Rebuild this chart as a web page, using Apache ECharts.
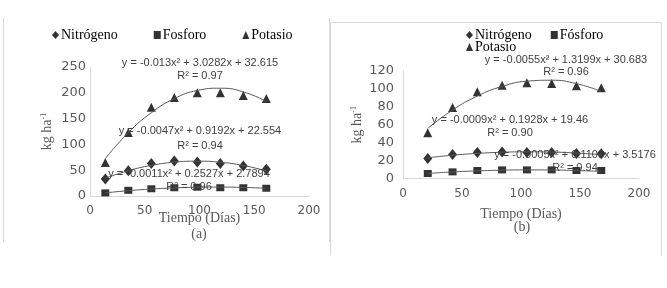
<!DOCTYPE html>
<html>
<head>
<meta charset="utf-8">
<script src="https://cdn.jsdelivr.net/npm/echarts@6/dist/echarts.min.js"></script>
<style>
  html, body { margin: 0; padding: 0; background: #fff; }
  #chart { width: 667px; height: 288px; }
</style>
</head>
<body>
<div id="chart"></div>
<script>
// (a) muestreo cada 21 dias
const diasA = [14, 35, 56, 77, 98, 119, 140, 161]
const nitA = [33, 49, 63, 68, 66, 63, 58, 52]
const fosA = [6, 11, 14, 16, 17, 16, 16, 15]
const potA = [65, 123, 172, 191, 200, 200, 195, 189]
const tendNitA = [34.5, 49.0, 59.3, 65.5, 67.5, 65.4, 59.1, 48.7]
const tendFosA = [6.1, 10.3, 13.5, 15.7, 17.0, 17.3, 16.6, 15.0]
const tendPotA = [72.5, 122.7, 161.4, 188.7, 204.5, 208.9, 201.8, 183.2]

// (b)
const diasB = [21, 42, 63, 84, 105, 126, 147, 168]
const nitB = [22.3, 26.8, 29, 29.7, 29, 29, 28, 27.5]
const fosB = [5.6, 7.4, 8.9, 9.6, 9.6, 9.6, 8.9, 8.9]
const potB = [51, 79.3, 96.8, 104.2, 106.8, 106.1, 103.5, 101.2]
const tendNitB = [23.1, 26.0, 28.0, 29.3, 29.8, 29.5, 28.4, 26.5]
const tendFosB = [5.6, 7.3, 8.5, 9.3, 9.6, 9.5, 8.9, 7.9]
const tendPotB = [56.0, 76.4, 92.0, 102.8, 108.6, 109.7, 105.9, 97.2]

const ecuacionesA = [
  ['y = -0.013x² + 3.0282x + 32.615', 'R² = 0.97'],
  ['y = -0.0047x² + 0.9192x + 22.554', 'R² = 0.94'],
  ['y = -0.0011x² + 0.2527x + 2.7894', 'R² = 0.96']
]
const ecuacionesB = [
  ['y = -0.0055x² + 1.3199x + 30.683', 'R² = 0.96'],
  ['y = -0.0009x² + 0.1928x + 19.46', 'R² = 0.90'],
  ['y = -0.0005x² + 0.1103x + 3.5176', 'R² = 0.94']
]

const pares = (xs, ys) => xs.map((x, i) => [x, ys[i]])

const gris = '#595959'
const borde = '#d9d9d9'
const serif = '"Liberation Serif", "Times New Roman", serif'
const sans = '"Liberation Sans", Arial, sans-serif'

function puntos(name, idx, xs, ys, symbol, size) {
  return {
    name: name,
    type: 'scatter',
    xAxisIndex: idx,
    yAxisIndex: idx,
    symbol: symbol,
    symbolSize: size,
    itemStyle: { color: '#000' },
    data: pares(xs, ys),
    z: 3
  }
}

function tendencia(idx, xs, ys) {
  return {
    name: 'tendencia',
    type: 'line',
    xAxisIndex: idx,
    yAxisIndex: idx,
    symbol: 'none',
    smooth: true,
    silent: true,
    lineStyle: { color: gris, width: 1 },
    data: pares(xs, ys),
    z: 4
  }
}

function ejeX(idx, gap) {
  return {
    gridIndex: idx,
    type: 'value',
    min: 0,
    max: 200,
    interval: 50,
    name: 'Tiempo (Días)',
    nameLocation: 'middle',
    nameGap: gap,
    nameMoveOverlap: false,
    nameTextStyle: { fontFamily: serif, fontSize: 14, color: gris },
    axisLine: { show: true, lineStyle: { color: borde } },
    axisTick: { show: false },
    splitLine: { show: false },
    axisLabel: { fontFamily: 'DejaVu Sans', fontSize: 12, color: gris, margin: 9 }
  }
}

function ejeY(idx, max, interval, gap, margin) {
  return {
    gridIndex: idx,
    type: 'value',
    min: 0,
    max: max,
    interval: interval,
    name: '{a|kg ha}{b|-1}',
    nameLocation: 'middle',
    nameGap: gap,
    nameMoveOverlap: false,
    nameTextStyle: {
      color: gris,
      rich: {
        a: { fontFamily: serif, fontSize: 14, color: gris },
        b: { fontFamily: serif, fontSize: 8, color: gris, padding: [0, 0, 7, 0] }
      }
    },
    axisLine: { show: true, lineStyle: { color: borde } },
    axisTick: { show: false },
    splitLine: { show: false },
    axisLabel: { fontFamily: 'DejaVu Sans', fontSize: 13, color: gris, margin: margin }
  }
}

function texto(t, x, y, font, size, color) {
  return {
    type: 'text',
    x: x,
    y: y,
    silent: true,
    style: {
      text: t,
      fontFamily: font,
      fontSize: size,
      fill: color,
      align: 'center',
      verticalAlign: 'middle',
      textAlign: 'center',
      textVerticalAlign: 'middle'
    },
    z: 10
  }
}

function linea(points) {
  return {
    type: 'polyline',
    silent: true,
    shape: { points: points },
    style: { stroke: borde, lineWidth: 1, fill: null }
  }
}

// posiciones de las etiquetas de ecuaciones [x, y de la ecuacion, y del R2]
const posA = [[200, 63, 76], [200, 131, 146], [189, 174, 187]]
const posB = [[566, 60, 72], [510, 120, 133], [575, 155, 168]]

const graficos = [
  linea([[3.5, 18], [3.5, 242]]),
  linea([[329.5, 18], [329.5, 242]]),
  linea([[330.5, 255], [330.5, 22.5], [661.5, 22.5], [661.5, 256]]),
  texto('(a)', 199, 234, serif, 14, gris),
  texto('(b)', 522, 227, serif, 14, gris)
]
ecuacionesA.forEach((e, i) => {
  graficos.push(texto(e[0], posA[i][0], posA[i][1], sans, 11, '#404040'))
  graficos.push(texto(e[1], posA[i][0], posA[i][2], sans, 11, '#404040'))
})
ecuacionesB.forEach((e, i) => {
  graficos.push(texto(e[0], posB[i][0], posB[i][1], sans, 11, '#404040'))
  graficos.push(texto(e[1], posB[i][0], posB[i][2], sans, 11, '#404040'))
})

const leyenda = {
  orient: 'horizontal',
  padding: 0,
  itemWidth: 7,
  itemHeight: 8,
  selectedMode: false,
  textStyle: { fontFamily: serif, fontSize: 14, color: '#000', padding: [0, 0, 0, -3] }
}

const chart = echarts.init(document.getElementById('chart'))
chart.setOption({
  animation: false,
  backgroundColor: '#fff',
  legend: [
    Object.assign({}, leyenda, {
      left: 52, top: 28, itemGap: 36,
      data: [
        { name: 'Nitrógeno', icon: 'diamond' },
        { name: 'Fosforo', icon: 'rect' },
        { name: 'Potasio', icon: 'triangle' }
      ]
    }),
    Object.assign({}, leyenda, {
      left: 466, top: 28, itemGap: 19,
      data: [
        { name: 'Nitrógeno', icon: 'diamond' },
        { name: 'Fósforo', icon: 'rect' }
      ]
    }),
    Object.assign({}, leyenda, {
      left: 466, top: 40,
      data: [{ name: 'Potasio', icon: 'triangle' }]
    })
  ],
  grid: [
    { left: 90, top: 67, width: 219, height: 129 },
    { left: 403, top: 71, width: 236, height: 107.5 }
  ],
  xAxis: [ejeX(0, 15), ejeX(1, 29)],
  yAxis: [ejeY(0, 250, 50, 35, 4), ejeY(1, 120, 20, 38, 9)],
  series: [
    puntos('Nitrógeno', 0, diasA, nitA, 'diamond', [9, 11]),
    puntos('Fosforo', 0, diasA, fosA, 'rect', [8, 7]),
    puntos('Potasio', 0, diasA, potA, 'triangle', [9, 9]),
    tendencia(0, diasA, tendNitA),
    tendencia(0, diasA, tendFosA),
    tendencia(0, diasA, tendPotA),
    puntos('Nitrógeno', 1, diasB, nitB, 'diamond', [9, 11]),
    puntos('Fósforo', 1, diasB, fosB, 'rect', [8, 7]),
    puntos('Potasio', 1, diasB, potB, 'triangle', [9, 9]),
    tendencia(1, diasB, tendNitB),
    tendencia(1, diasB, tendFosB),
    tendencia(1, diasB, tendPotB)
  ],
  graphic: graficos
})
window.addEventListener('resize', () => {
  chart.resize()
})
</script>
</body>
</html>
